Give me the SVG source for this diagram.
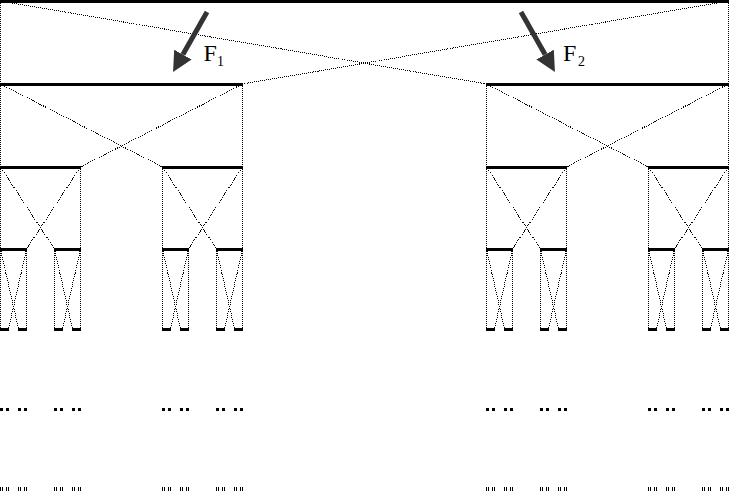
<svg xmlns="http://www.w3.org/2000/svg" width="729" height="491" viewBox="0 0 729 491">
<style>
.bar{fill:#000}
.con{fill:none;stroke:#000;stroke-width:1;stroke-dasharray:1 1;shape-rendering:crispEdges}
.force{stroke:#333;stroke-width:5;fill:none}
.lbl{font-family:"Liberation Serif","Times New Roman",serif;fill:#000}
</style>
<defs>
<marker id="ah" viewBox="0 0 10 10" refX="0" refY="5" markerWidth="20" markerHeight="20" markerUnits="userSpaceOnUse" orient="auto">
<path d="M0,0 L10,5 L0,10 z" fill="#333"/>
</marker>
</defs>
<rect width="729" height="491" fill="#fff"/>
<g id="connectors">
<path class="con" d="M0.5,1V84 M0.5,1L486.5,84 M728.5,1L242.5,84 M728.5,1V84"/>
<path class="con" d="M0.5,84V167 M0.5,84L162.5,167 M242.5,84L80.5,167 M242.5,84V167"/>
<path class="con" d="M486.5,84V167 M486.5,84L648.5,167 M728.5,84L566.5,167 M728.5,84V167"/>
<path class="con" d="M0.5,167V249 M0.5,167L54.5,249 M80.5,167L26.5,249 M80.5,167V249"/>
<path class="con" d="M162.5,167V249 M162.5,167L216.5,249 M242.5,167L188.5,249 M242.5,167V249"/>
<path class="con" d="M486.5,167V249 M486.5,167L540.5,249 M566.5,167L512.5,249 M566.5,167V249"/>
<path class="con" d="M648.5,167V249 M648.5,167L702.5,249 M728.5,167L674.5,249 M728.5,167V249"/>
<path class="con" d="M0.5,249V329 M0.5,249L18.5,329 M26.5,249L8.5,329 M26.5,249V329"/>
<path class="con" d="M54.5,249V329 M54.5,249L72.5,329 M80.5,249L62.5,329 M80.5,249V329"/>
<path class="con" d="M162.5,249V329 M162.5,249L180.5,329 M188.5,249L170.5,329 M188.5,249V329"/>
<path class="con" d="M216.5,249V329 M216.5,249L234.5,329 M242.5,249L224.5,329 M242.5,249V329"/>
<path class="con" d="M486.5,249V329 M486.5,249L504.5,329 M512.5,249L494.5,329 M512.5,249V329"/>
<path class="con" d="M540.5,249V329 M540.5,249L558.5,329 M566.5,249L548.5,329 M566.5,249V329"/>
<path class="con" d="M648.5,249V329 M648.5,249L666.5,329 M674.5,249L656.5,329 M674.5,249V329"/>
<path class="con" d="M702.5,249V329 M702.5,249L720.5,329 M728.5,249L710.5,329 M728.5,249V329"/>
</g>
<g id="level0"><rect class="bar" x="0" y="0" width="729" height="3"/></g>
<g id="level1">
<rect class="bar" x="0" y="83" width="243" height="3"/>
<rect class="bar" x="486" y="83" width="243" height="3"/>
</g>
<g id="level2">
<rect class="bar" x="0" y="166" width="81" height="3"/>
<rect class="bar" x="162" y="166" width="81" height="3"/>
<rect class="bar" x="486" y="166" width="81" height="3"/>
<rect class="bar" x="648" y="166" width="81" height="3"/>
</g>
<g id="level3">
<rect class="bar" x="0" y="248" width="27" height="3"/>
<rect class="bar" x="54" y="248" width="27" height="3"/>
<rect class="bar" x="162" y="248" width="27" height="3"/>
<rect class="bar" x="216" y="248" width="27" height="3"/>
<rect class="bar" x="486" y="248" width="27" height="3"/>
<rect class="bar" x="540" y="248" width="27" height="3"/>
<rect class="bar" x="648" y="248" width="27" height="3"/>
<rect class="bar" x="702" y="248" width="27" height="3"/>
</g>
<g id="level4">
<rect class="bar" x="0" y="328" width="9" height="3"/><rect class="bar" x="18" y="328" width="9" height="3"/>
<rect class="bar" x="54" y="328" width="9" height="3"/><rect class="bar" x="72" y="328" width="9" height="3"/>
<rect class="bar" x="162" y="328" width="9" height="3"/><rect class="bar" x="180" y="328" width="9" height="3"/>
<rect class="bar" x="216" y="328" width="9" height="3"/><rect class="bar" x="234" y="328" width="9" height="3"/>
<rect class="bar" x="486" y="328" width="9" height="3"/><rect class="bar" x="504" y="328" width="9" height="3"/>
<rect class="bar" x="540" y="328" width="9" height="3"/><rect class="bar" x="558" y="328" width="9" height="3"/>
<rect class="bar" x="648" y="328" width="9" height="3"/><rect class="bar" x="666" y="328" width="9" height="3"/>
<rect class="bar" x="702" y="328" width="9" height="3"/><rect class="bar" x="720" y="328" width="9" height="3"/>
</g>
<g id="level5">
<path class="bar" d="M0,408h3v3h-3z M6,408h3v3h-3z M18,408h3v3h-3z M24,408h3v3h-3z M54,408h3v3h-3z M60,408h3v3h-3z M72,408h3v3h-3z M78,408h3v3h-3z M162,408h3v3h-3z M168,408h3v3h-3z M180,408h3v3h-3z M186,408h3v3h-3z M216,408h3v3h-3z M222,408h3v3h-3z M234,408h3v3h-3z M240,408h3v3h-3z M486,408h3v3h-3z M492,408h3v3h-3z M504,408h3v3h-3z M510,408h3v3h-3z M540,408h3v3h-3z M546,408h3v3h-3z M558,408h3v3h-3z M564,408h3v3h-3z M648,408h3v3h-3z M654,408h3v3h-3z M666,408h3v3h-3z M672,408h3v3h-3z M702,408h3v3h-3z M708,408h3v3h-3z M720,408h3v3h-3z M726,408h3v3h-3z"/>
</g>
<g id="level6">
<path class="bar" d="M0,487h1v4h-1z M2,487h1v4h-1z M6,487h1v4h-1z M8,487h1v4h-1z M18,487h1v4h-1z M20,487h1v4h-1z M24,487h1v4h-1z M26,487h1v4h-1z M54,487h1v4h-1z M56,487h1v4h-1z M60,487h1v4h-1z M62,487h1v4h-1z M72,487h1v4h-1z M74,487h1v4h-1z M78,487h1v4h-1z M80,487h1v4h-1z M162,487h1v4h-1z M164,487h1v4h-1z M168,487h1v4h-1z M170,487h1v4h-1z M180,487h1v4h-1z M182,487h1v4h-1z M186,487h1v4h-1z M188,487h1v4h-1z M216,487h1v4h-1z M218,487h1v4h-1z M222,487h1v4h-1z M224,487h1v4h-1z M234,487h1v4h-1z M236,487h1v4h-1z M240,487h1v4h-1z M242,487h1v4h-1z M486,487h1v4h-1z M488,487h1v4h-1z M492,487h1v4h-1z M494,487h1v4h-1z M504,487h1v4h-1z M506,487h1v4h-1z M510,487h1v4h-1z M512,487h1v4h-1z M540,487h1v4h-1z M542,487h1v4h-1z M546,487h1v4h-1z M548,487h1v4h-1z M558,487h1v4h-1z M560,487h1v4h-1z M564,487h1v4h-1z M566,487h1v4h-1z M648,487h1v4h-1z M650,487h1v4h-1z M654,487h1v4h-1z M656,487h1v4h-1z M666,487h1v4h-1z M668,487h1v4h-1z M672,487h1v4h-1z M674,487h1v4h-1z M702,487h1v4h-1z M704,487h1v4h-1z M708,487h1v4h-1z M710,487h1v4h-1z M720,487h1v4h-1z M722,487h1v4h-1z M726,487h1v4h-1z M728,487h1v4h-1z"/>
</g>
<g id="force1">
<line class="force" x1="207" y1="12" x2="182.9" y2="54.6" marker-end="url(#ah)"/>
<text class="lbl" x="203.5" y="61" font-size="24">F<tspan x="217" y="65.5" font-size="14">1</tspan></text>
</g>
<g id="force2">
<line class="force" x1="521" y1="12" x2="545.1" y2="54.6" marker-end="url(#ah)"/>
<text class="lbl" x="563" y="61" font-size="24">F<tspan x="578" y="65.5" font-size="14">2</tspan></text>
</g>
</svg>
